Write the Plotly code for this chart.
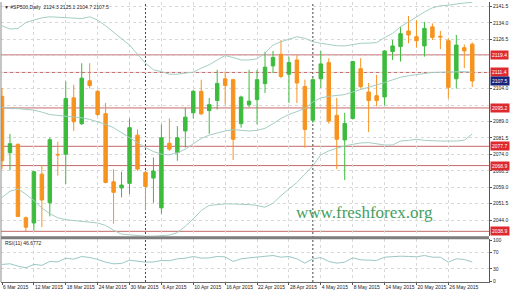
import plotly.graph_objects as go

# ---------------- data ----------------
dates = ["6 Mar", "9 Mar", "10 Mar", "11 Mar", "12 Mar", "13 Mar", "16 Mar", "17 Mar", "18 Mar", "19 Mar",
         "20 Mar", "23 Mar", "24 Mar", "25 Mar", "26 Mar", "27 Mar", "30 Mar", "31 Mar", "1 Apr", "2 Apr",
         "6 Apr", "7 Apr", "8 Apr", "9 Apr", "10 Apr", "13 Apr", "14 Apr", "15 Apr", "16 Apr", "17 Apr",
         "20 Apr", "21 Apr", "22 Apr", "23 Apr", "24 Apr", "27 Apr", "28 Apr", "29 Apr", "30 Apr", "1 May",
         "4 May", "5 May", "6 May", "7 May", "8 May", "11 May", "12 May", "13 May", "14 May", "15 May",
         "18 May", "19 May", "20 May", "21 May", "22 May", "25 May", "26 May", "27 May", "28 May", "29 May"]

opens = [2100.5, 2074.8, 2078.6, 2045.1, 2042.7, 2065.0, 2051.9, 2074.0, 2074.1, 2099.8,
         2088.0, 2107.6, 2102.8, 2092.6, 2061.5, 2058.7, 2060.8, 2082.8, 2065.8, 2063.2,
         2049.6, 2079.1, 2074.8, 2084.7, 2093.0, 2102.8, 2094.0, 2098.6, 2108.5, 2108.1,
         2088.0, 2096.7, 2099.0, 2106.3, 2114.4, 2119.7, 2110.6, 2117.1, 2105.0, 2089.6,
         2108.5, 2115.9, 2091.8, 2080.6, 2090.4, 2113.1, 2102.5, 2100.8, 2100.2, 2120.9,
         2123.2, 2130.3, 2127.7, 2123.5, 2132.2, 2127.9, 2125.9, 2108.5, 2122.7, 2124.3]
highs = [2104.3, 2083.4, 2079.0, 2045.7, 2066.5, 2069.2, 2081.6, 2079.8, 2107.3, 2105.8,
         2115.6, 2115.6, 2103.5, 2097.5, 2067.3, 2066.1, 2090.4, 2085.4, 2066.5, 2072.6,
         2087.7, 2090.4, 2086.9, 2095.2, 2103.5, 2108.1, 2099.8, 2112.6, 2111.8, 2108.5,
         2100.8, 2112.6, 2112.6, 2120.9, 2121.2, 2126.2, 2118.6, 2119.4, 2108.1, 2108.8,
         2121.2, 2117.9, 2099.8, 2093.0, 2116.7, 2117.9, 2106.6, 2110.3, 2121.5, 2126.2,
         2132.2, 2137.2, 2135.3, 2134.5, 2133.8, 2130.3, 2127.0, 2128.5, 2124.2, 2125.1]
lows = [2067.3, 2066.8, 2045.4, 2039.0, 2039.3, 2040.8, 2045.7, 2064.3, 2060.5, 2084.7,
        2087.4, 2104.0, 2091.5, 2060.8, 2042.4, 2054.4, 2055.9, 2066.5, 2048.5, 2051.9,
        2046.9, 2075.6, 2071.1, 2077.1, 2090.4, 2091.9, 2083.4, 2094.5, 2096.7, 2071.4,
        2086.2, 2095.5, 2087.7, 2102.0, 2111.1, 2108.8, 2097.5, 2097.5, 2077.1, 2088.4,
        2104.3, 2088.0, 2067.3, 2062.3, 2089.9, 2104.0, 2084.2, 2096.0, 2096.4, 2117.1,
        2116.4, 2124.7, 2122.7, 2118.6, 2126.2, 2122.0, 2099.5, 2104.0, 2113.4, 2104.7]
closes = [2071.1, 2078.9, 2045.7, 2040.8, 2066.1, 2053.2, 2080.7, 2073.8, 2099.5, 2088.9,
          2108.8, 2105.4, 2092.2, 2061.2, 2056.7, 2060.0, 2086.2, 2067.3, 2059.4, 2066.4,
          2081.6, 2076.4, 2081.6, 2091.0, 2102.8, 2092.5, 2096.7, 2106.4, 2105.5, 2080.9,
          2100.2, 2098.3, 2108.1, 2113.8, 2118.2, 2109.6, 2115.9, 2106.6, 2085.4, 2108.1,
          2115.3, 2089.2, 2080.9, 2088.1, 2116.4, 2104.9, 2098.6, 2098.6, 2121.2, 2123.5,
          2129.1, 2128.5, 2125.9, 2131.5, 2127.4, 2127.6, 2104.6, 2123.9, 2121.2, 2107.5]

bb_upper = [2132.7, 2131.2, 2131.5, 2134.2, 2135.3, 2136.3, 2136.8, 2136.6, 2136.3, 2136.0,
            2136.0, 2136.8, 2135.3, 2132.7, 2129.7, 2127.0, 2123.9, 2119.7, 2115.6, 2112.6,
            2111.8, 2110.6, 2110.6, 2111.1, 2111.5, 2113.4, 2114.9, 2117.1, 2119.1, 2118.2,
            2117.1, 2117.1, 2117.6, 2120.2, 2123.9, 2125.4, 2126.7, 2127.7, 2127.0, 2125.4,
            2124.7, 2124.2, 2123.6, 2123.5, 2124.2, 2124.7, 2124.8, 2125.0, 2127.3, 2129.2,
            2132.2, 2134.5, 2136.8, 2139.0, 2140.9, 2141.8, 2142.1, 2142.7, 2143.1, 2143.4]
bb_middle = [2095.5, 2094.9, 2094.9, 2094.5, 2094.2, 2093.3, 2092.2, 2091.8, 2091.5, 2091.2,
             2090.7, 2090.0, 2088.9, 2087.7, 2086.2, 2083.9, 2081.6, 2079.4, 2077.1, 2075.3,
             2074.1, 2073.8, 2074.7, 2076.4, 2078.9, 2081.3, 2082.8, 2083.8, 2084.7, 2085.3,
             2085.1, 2084.7, 2085.0, 2085.9, 2088.0, 2090.4, 2092.2, 2093.4, 2094.9, 2097.9,
             2099.8, 2100.5, 2100.8, 2101.3, 2102.5, 2103.5, 2104.6, 2105.5, 2106.8, 2108.0,
             2109.2, 2109.9, 2110.5, 2110.9, 2111.4, 2111.5, 2111.7, 2111.8, 2111.8, 2111.5]
bb_lower = [2054.4, 2057.2, 2058.2, 2055.9, 2052.9, 2049.6, 2046.9, 2045.1, 2044.2, 2043.9,
            2043.6, 2043.1, 2042.7, 2041.6, 2039.4, 2037.6, 2037.2, 2036.9, 2036.7, 2036.7,
            2036.9, 2037.2, 2038.3, 2041.2, 2044.6, 2048.4, 2050.7, 2051.1, 2051.4, 2051.4,
            2051.3, 2051.1, 2050.7, 2049.9, 2051.7, 2055.2, 2058.2, 2061.2, 2065.0, 2068.8,
            2073.8, 2075.6, 2076.8, 2077.9, 2078.6, 2079.2, 2079.4, 2078.9, 2078.3, 2078.3,
            2080.1, 2080.4, 2080.9, 2080.4, 2080.1, 2080.1, 2080.1, 2080.1, 2080.5, 2083.3]

rsi = [40.7, 42.3, 36.6, 32.5, 40.7, 38.5, 48.0, 47.0, 56.1, 53.7,
       60.2, 57.7, 52.9, 46.3, 42.3, 43.1, 51.2, 49.6, 46.3, 46.8,
       50.4, 49.8, 54.5, 56.1, 60.2, 56.1, 56.9, 60.2, 59.3, 48.0,
       54.5, 56.9, 58.5, 61.0, 62.6, 58.5, 60.2, 54.5, 43.9, 54.5,
       57.7, 48.0, 43.9, 46.3, 56.9, 52.1, 50.4, 50.4, 58.5, 60.2,
       61.0, 60.4, 59.5, 62.6, 58.5, 58.5, 46.3, 54.5, 52.9, 46.7]

x_tick_index = [0, 4, 8, 12, 16, 20, 24, 28, 32, 36, 40, 44, 48, 52, 56]
x_tick_text = ["6 Mar 2015", "12 Mar 2015", "18 Mar 2015", "24 Mar 2015", "30 Mar 2015",
               "6 Apr 2015", "10 Apr 2015", "16 Apr 2015", "22 Apr 2015", "28 Apr 2015",
               "4 May 2015", "8 May 2015", "14 May 2015", "20 May 2015", "26 May 2015"]

price_ticks = [2036.5, 2044.0, 2051.5, 2059.0, 2066.5, 2074.0, 2081.5, 2089.0,
               2104.0, 2126.5, 2134.0, 2141.5]
grid_price = [2036.5, 2044.0, 2051.5, 2059.0, 2066.5, 2074.0, 2081.5, 2089.0, 2096.5,
              2104.0, 2111.5, 2119.0, 2126.5, 2134.0, 2141.5]
level_lines = [2119.4, 2111.4, 2095.2, 2077.7, 2068.9, 2038.9]
last_price = 2107.5
separators = [18, 39]   # 1 Apr, 1 May
rsi_ticks = [0, 30, 70, 100]

title_text = "\u25BC #SP500,Daily  2124.3 2125.1 2104.7 2107.5"
rsi_text = "RSI(11) 46.6772"
watermark = "www.freshforex.org"

# ---------------- layout geometry ----------------
W, H = 510, 295
ML, MR, MT, MB = 1, 21, 0, 13
PW, PH = W - ML - MR, H - MT - MB


def px_x(x):
    return (x - ML) / PW


def px_y(y):
    return (H - MB - y) / PH


FONT = "Liberation Sans"
ORANGE = "#F7931E"
GREEN = "#3DBB3D"
BB = "#a3cdc4"
GRID = "#d8d8d8"

xs = list(range(len(dates)))

fig = go.Figure()

# Bollinger bands
for arr in (bb_upper, bb_middle, bb_lower):
    fig.add_trace(go.Scatter(x=xs, y=arr, mode="lines", line=dict(color=BB, width=1),
                             hoverinfo="skip", showlegend=False, xaxis="x", yaxis="y"))

fig.add_trace(go.Candlestick(
    x=xs, open=opens, high=highs, low=lows, close=closes,
    increasing=dict(line=dict(color=GREEN, width=1), fillcolor=GREEN),
    decreasing=dict(line=dict(color=ORANGE, width=1), fillcolor=ORANGE),
    whiskerwidth=0, showlegend=False, xaxis="x", yaxis="y"))

fig.add_trace(go.Scatter(x=xs, y=rsi, mode="lines", line=dict(color="#9cc6c6", width=1),
                         hoverinfo="skip", showlegend=False, xaxis="x", yaxis="y2"))

shapes = []
for v in level_lines:
    shapes.append(dict(type="line", xref="paper", x0=0, x1=1, yref="y", y0=v, y1=v,
                       line=dict(color="#c46a6a", width=1), layer="between"))
for s in separators:
    shapes.append(dict(type="line", xref="x", x0=s, x1=s, yref="paper", y0=0, y1=1,
                       line=dict(color="#444444", width=1, dash="2px,2px"), layer="between"))
shapes.append(dict(type="rect", xref="paper", x0=0, x1=1, yref="paper",
                   y0=px_y(239), y1=px_y(236), fillcolor="#7d7d7d", line=dict(width=0),
                   layer="above"))
shapes.append(dict(type="line", xref="paper", x0=0, x1=0, yref="paper", y0=0, y1=1,
                   line=dict(color="#8a8a8a", width=1), layer="above"))

annotations = []
small = dict(family=FONT, size=5, color="#222222")
annotations.append(dict(text=title_text, xref="paper", yref="paper", x=px_x(2), y=px_y(5.5),
                        xanchor="left", yanchor="middle", showarrow=False, font=small))
annotations.append(dict(text=rsi_text, xref="paper", yref="paper", x=px_x(3), y=px_y(243),
                        xanchor="left", yanchor="middle", showarrow=False, font=small))
annotations.append(dict(text=watermark, xref="paper", yref="paper", x=px_x(364), y=px_y(212),
                        xanchor="center", yanchor="middle", showarrow=False,
                        font=dict(family="Liberation Serif", size=17, color="#45a060")))
for v in level_lines:
    annotations.append(dict(text=f"{v:.1f}", xref="paper", yref="y", x=px_x(490), y=v,
                            xanchor="left", yanchor="middle", showarrow=False,
                            bgcolor="#dd2a2f", borderpad=1,
                            font=dict(family=FONT, size=5, color="white")))
annotations.append(dict(text=f"{last_price:.1f}", xref="paper", yref="y", x=px_x(490), y=last_price,
                        xanchor="left", yanchor="middle", showarrow=False,
                        bgcolor="#17237a", borderpad=1,
                        font=dict(family=FONT, size=5, color="white")))

main_top, main_bot = 0, 236
rsi_top, rsi_bot = 239, H - MB


def price_at(y):
    return 2119.4 - (y - 53.3) / 2.207


fig.update_layout(
    width=W, height=H, margin=dict(l=ML, r=MR, t=MT, b=MB),
    paper_bgcolor="white", plot_bgcolor="white", showlegend=False,
    boxgap=0.38, hovermode=False,
    xaxis=dict(domain=[0, 1], anchor="y2", range=[-0.125, 61.1],
               tickvals=x_tick_index, ticktext=x_tick_text, tickangle=0,
               ticklabelposition="outside right", tickfont=dict(family=FONT, size=5, color="#222"),
               ticks="outside", ticklen=2, tickcolor="#555",
               showgrid=True, gridcolor=GRID, griddash="dot", gridwidth=1,
               showline=True, linecolor="#666", linewidth=1,
               zeroline=False, rangeslider=dict(visible=False), fixedrange=True),
    yaxis=dict(domain=[px_y(main_bot), 1], anchor="x", side="right",
               range=[price_at(main_bot), price_at(main_top)],
               tickvals=price_ticks, ticktext=[f"{v:.1f}" for v in price_ticks],
               tickfont=dict(family=FONT, size=5, color="#222"),
               ticks="outside", ticklen=2, tickcolor="#555",
               showgrid=False, showline=True, linecolor="#555", linewidth=1,
               zeroline=False, fixedrange=True),
    yaxis3=dict(domain=[px_y(main_bot), 1], anchor="x", overlaying="y", side="right",
                range=[price_at(main_bot), price_at(main_top)],
                tickvals=grid_price, showticklabels=False, ticks="",
                showgrid=True, gridcolor=GRID, griddash="dot", gridwidth=1,
                zeroline=False, fixedrange=True, showline=False),
    yaxis2=dict(domain=[0, px_y(rsi_top)], anchor="x", side="right",
                range=[(281 - rsi_bot) / 0.41, (281 - rsi_top) / 0.41],
                tickvals=rsi_ticks, ticktext=[str(v) for v in rsi_ticks],
                tickfont=dict(family=FONT, size=5, color="#222"),
                ticks="outside", ticklen=2, tickcolor="#555",
                showgrid=True, gridcolor=GRID, griddash="dot", gridwidth=1,
                showline=True, linecolor="#555", linewidth=1,
                zeroline=False, fixedrange=True),
    shapes=shapes, annotations=annotations,
)

fig.add_trace(go.Scatter(x=[xs[0]], y=[grid_price[0]], mode="markers", marker=dict(opacity=0),
                         hoverinfo="skip", showlegend=False, xaxis="x", yaxis="y3"))

fig.write_html("out.html", config={"displayModeBar": False, "staticPlot": True})
